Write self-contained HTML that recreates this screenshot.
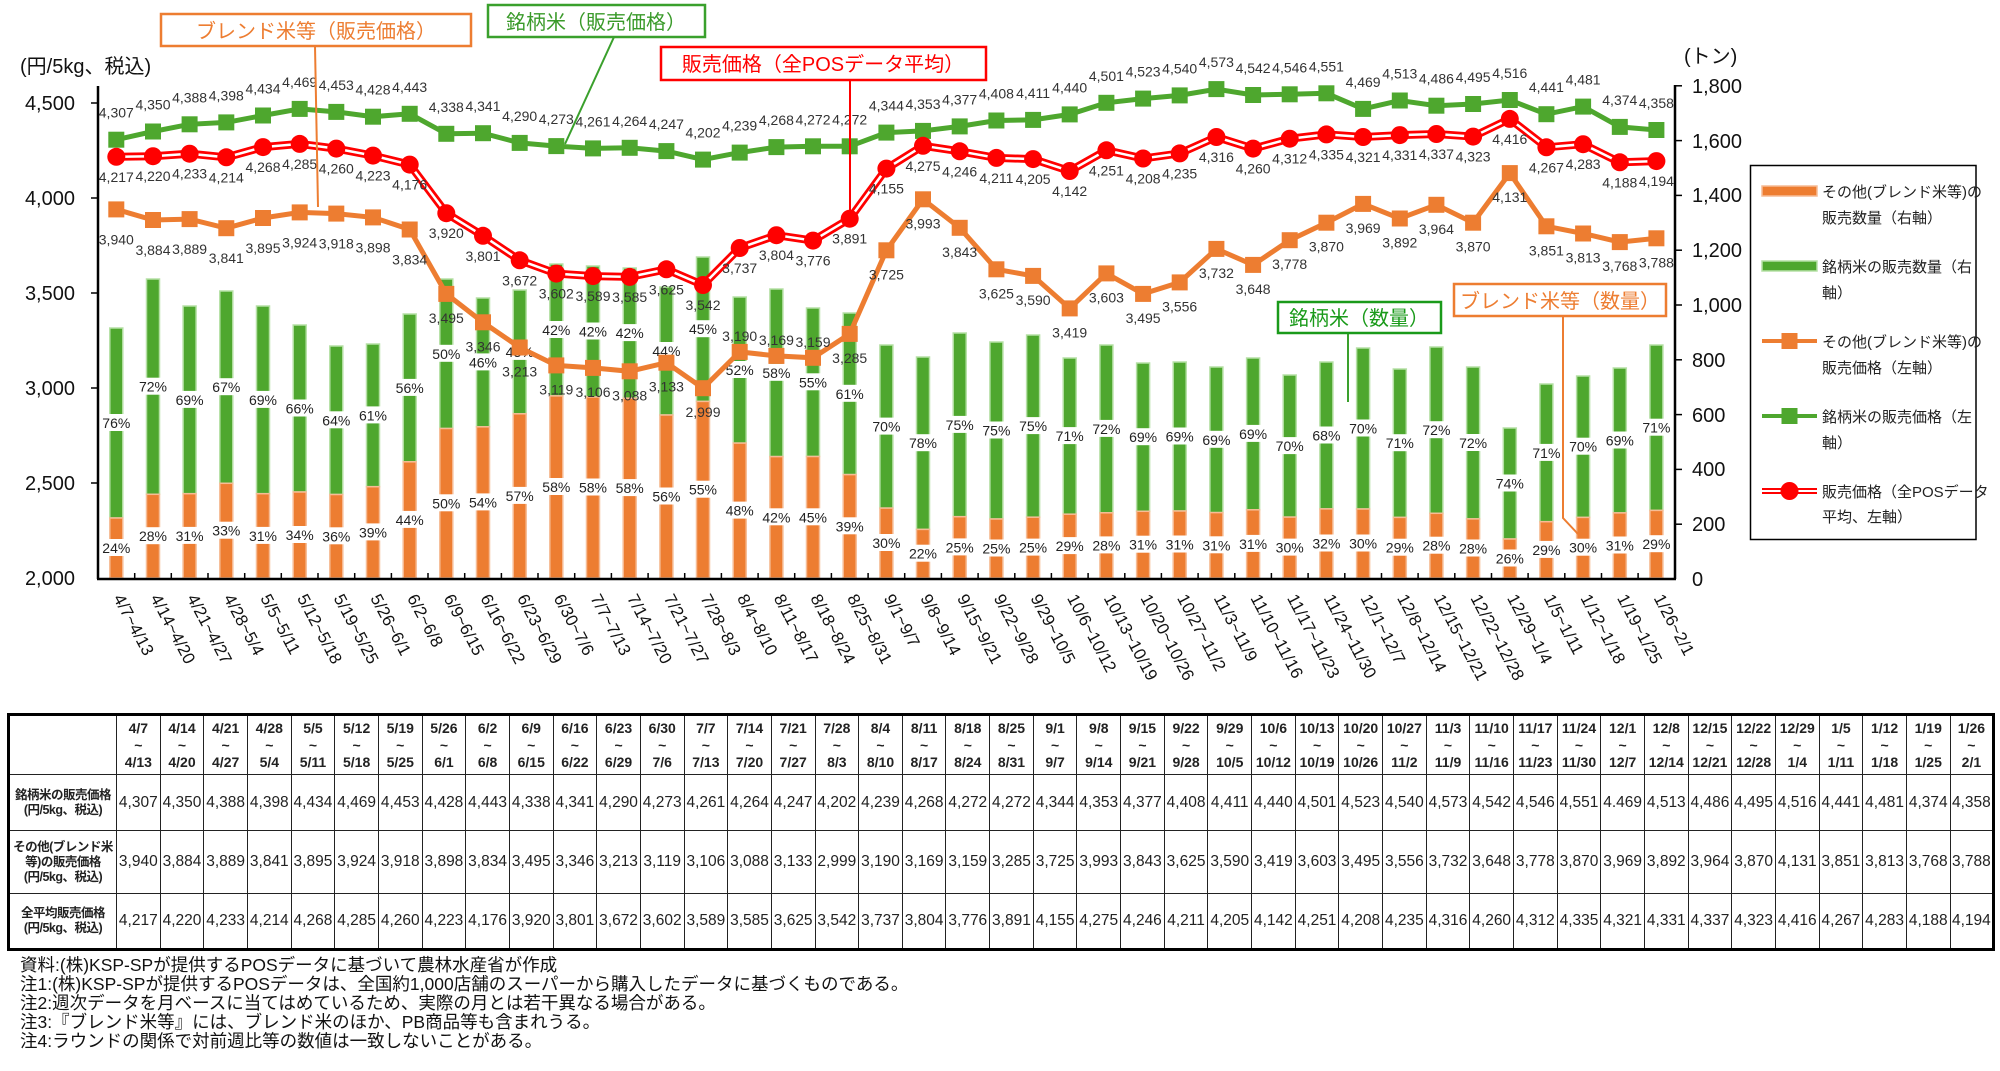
<!DOCTYPE html>
<html><head><meta charset="utf-8">
<style>
html,body{margin:0;padding:0;background:#fff;}
body{width:2000px;height:1071px;position:relative;overflow:hidden;font-family:"Liberation Sans","Noto Sans CJK JP",sans-serif;}
svg{position:absolute;left:0;top:0;}
table{position:absolute;left:7px;top:713px;border-collapse:collapse;table-layout:fixed;width:1986px;border:3px solid #000;}
td{border:1.5px solid #222;padding:0;text-align:center;font-size:15.5px;color:#222;overflow:hidden;white-space:nowrap;}
tr.h td{font-weight:bold;font-size:14px;line-height:17px;height:58px;}
td.l{font-weight:bold;font-size:12.5px;line-height:15px;letter-spacing:-0.5px;}
.notes{position:absolute;left:20px;top:956px;font-size:17.5px;line-height:19px;color:#111;}
</style></head><body>
<svg width="2000" height="1071" viewBox="0 0 2000 1071" font-family="Liberation Sans, Noto Sans CJK JP, sans-serif">
<defs>
<rect id="gs" x="-8" y="-8" width="16" height="16" fill="#4ea72e"/>
<rect id="os" x="-8" y="-8" width="16" height="16" fill="#ed7d31"/>
<circle id="rc" r="9" fill="#ff0000"/>
</defs>
<g stroke-width="1.5">
<g fill="#4ea72e" stroke="#b5e0a5">
<rect x="109.8" y="328" width="13" height="190"/><rect x="146.5" y="279" width="13" height="215.3"/><rect x="183.1" y="306" width="13" height="187.7"/><rect x="219.8" y="291" width="13" height="192.3"/><rect x="256.5" y="306" width="13" height="187.7"/><rect x="293.2" y="325" width="13" height="167"/><rect x="329.8" y="346" width="13" height="148.5"/><rect x="366.5" y="344" width="13" height="142.7"/><rect x="403.2" y="314" width="13" height="147.8"/><rect x="439.8" y="279" width="13" height="149.5"/><rect x="476.5" y="298" width="13" height="128.8"/><rect x="513.2" y="290" width="13" height="123.8"/><rect x="549.8" y="264" width="13" height="131.9"/><rect x="586.5" y="266" width="13" height="131"/><rect x="623.2" y="268" width="13" height="130.2"/><rect x="659.9" y="287" width="13" height="128"/><rect x="696.5" y="257" width="13" height="144.4"/><rect x="733.2" y="297" width="13" height="146.1"/><rect x="769.9" y="289" width="13" height="167.6"/><rect x="806.5" y="308" width="13" height="148.5"/><rect x="843.2" y="313" width="13" height="161.6"/><rect x="879.9" y="345" width="13" height="163.1"/><rect x="916.5" y="357" width="13" height="172.4"/><rect x="953.2" y="333" width="13" height="183.7"/><rect x="989.9" y="342" width="13" height="177"/><rect x="1026.6" y="335" width="13" height="182.2"/><rect x="1063.2" y="358" width="13" height="156.2"/><rect x="1099.9" y="345" width="13" height="167.8"/><rect x="1136.6" y="363" width="13" height="148.3"/><rect x="1173.2" y="362" width="13" height="149"/><rect x="1209.9" y="367" width="13" height="145.6"/><rect x="1246.6" y="358" width="13" height="151.8"/><rect x="1283.2" y="375" width="13" height="142.1"/><rect x="1319.9" y="362" width="13" height="146.9"/><rect x="1356.6" y="348" width="13" height="161"/><rect x="1393.3" y="369" width="13" height="148.4"/><rect x="1429.9" y="347" width="13" height="166.3"/><rect x="1466.6" y="367" width="13" height="151.9"/><rect x="1503.3" y="428" width="13" height="111"/><rect x="1539.9" y="384" width="13" height="137.7"/><rect x="1576.6" y="376" width="13" height="141.4"/><rect x="1613.3" y="368" width="13" height="144.9"/><rect x="1649.9" y="345" width="13" height="165.4"/>
</g>
<g fill="#ed7d31" stroke="#f6bc95">
<rect x="109.8" y="518" width="13" height="60"/><rect x="146.5" y="494.3" width="13" height="83.7"/><rect x="183.1" y="493.7" width="13" height="84.3"/><rect x="219.8" y="483.3" width="13" height="94.7"/><rect x="256.5" y="493.7" width="13" height="84.3"/><rect x="293.2" y="492" width="13" height="86"/><rect x="329.8" y="494.5" width="13" height="83.5"/><rect x="366.5" y="486.7" width="13" height="91.3"/><rect x="403.2" y="461.8" width="13" height="116.2"/><rect x="439.8" y="428.5" width="13" height="149.5"/><rect x="476.5" y="426.8" width="13" height="151.2"/><rect x="513.2" y="413.8" width="13" height="164.2"/><rect x="549.8" y="395.9" width="13" height="182.1"/><rect x="586.5" y="397" width="13" height="181"/><rect x="623.2" y="398.2" width="13" height="179.8"/><rect x="659.9" y="415" width="13" height="163"/><rect x="696.5" y="401.4" width="13" height="176.6"/><rect x="733.2" y="443.1" width="13" height="134.9"/><rect x="769.9" y="456.6" width="13" height="121.4"/><rect x="806.5" y="456.5" width="13" height="121.5"/><rect x="843.2" y="474.6" width="13" height="103.4"/><rect x="879.9" y="508.1" width="13" height="69.9"/><rect x="916.5" y="529.4" width="13" height="48.6"/><rect x="953.2" y="516.7" width="13" height="61.3"/><rect x="989.9" y="519" width="13" height="59"/><rect x="1026.6" y="517.2" width="13" height="60.8"/><rect x="1063.2" y="514.2" width="13" height="63.8"/><rect x="1099.9" y="512.8" width="13" height="65.2"/><rect x="1136.6" y="511.3" width="13" height="66.7"/><rect x="1173.2" y="511" width="13" height="67"/><rect x="1209.9" y="512.6" width="13" height="65.4"/><rect x="1246.6" y="509.8" width="13" height="68.2"/><rect x="1283.2" y="517.1" width="13" height="60.9"/><rect x="1319.9" y="508.9" width="13" height="69.1"/><rect x="1356.6" y="509" width="13" height="69"/><rect x="1393.3" y="517.4" width="13" height="60.6"/><rect x="1429.9" y="513.3" width="13" height="64.7"/><rect x="1466.6" y="518.9" width="13" height="59.1"/><rect x="1503.3" y="539" width="13" height="39"/><rect x="1539.9" y="521.7" width="13" height="56.3"/><rect x="1576.6" y="517.4" width="13" height="60.6"/><rect x="1613.3" y="512.9" width="13" height="65.1"/><rect x="1649.9" y="510.4" width="13" height="67.6"/>
</g></g>
<g fill="#fff">
<rect x="99.3" y="414" width="34" height="17"/><rect x="136" y="377.7" width="34" height="17"/><rect x="172.6" y="390.9" width="34" height="17"/><rect x="209.3" y="378.2" width="34" height="17"/><rect x="246" y="390.9" width="34" height="17"/><rect x="282.7" y="399.5" width="34" height="17"/><rect x="319.3" y="411.3" width="34" height="17"/><rect x="356" y="406.4" width="34" height="17"/><rect x="392.7" y="378.9" width="34" height="17"/><rect x="429.3" y="344.8" width="34" height="17"/><rect x="466" y="353.4" width="34" height="17"/><rect x="502.7" y="342.9" width="34" height="17"/><rect x="539.3" y="321" width="34" height="17"/><rect x="576" y="322.5" width="34" height="17"/><rect x="612.7" y="324.1" width="34" height="17"/><rect x="649.4" y="342" width="34" height="17"/><rect x="686" y="320.2" width="34" height="17"/><rect x="722.7" y="361" width="34" height="17"/><rect x="759.4" y="363.8" width="34" height="17"/><rect x="796" y="373.3" width="34" height="17"/><rect x="832.7" y="384.8" width="34" height="17"/><rect x="869.4" y="417.6" width="34" height="17"/><rect x="906" y="434.2" width="34" height="17"/><rect x="942.7" y="415.9" width="34" height="17"/><rect x="979.4" y="421.5" width="34" height="17"/><rect x="1016.1" y="417.1" width="34" height="17"/><rect x="1052.7" y="427.1" width="34" height="17"/><rect x="1089.4" y="419.9" width="34" height="17"/><rect x="1126.1" y="428.2" width="34" height="17"/><rect x="1162.7" y="427.5" width="34" height="17"/><rect x="1199.4" y="430.8" width="34" height="17"/><rect x="1236.1" y="424.9" width="34" height="17"/><rect x="1272.7" y="437.1" width="34" height="17"/><rect x="1309.4" y="426.5" width="34" height="17"/><rect x="1346.1" y="419.5" width="34" height="17"/><rect x="1382.8" y="434.2" width="34" height="17"/><rect x="1419.4" y="421.2" width="34" height="17"/><rect x="1456.1" y="434" width="34" height="17"/><rect x="1492.8" y="474.5" width="34" height="17"/><rect x="1529.4" y="443.9" width="34" height="17"/><rect x="1566.1" y="437.7" width="34" height="17"/><rect x="1602.8" y="431.5" width="34" height="17"/><rect x="1639.4" y="418.7" width="34" height="17"/>
<rect x="99.3" y="539" width="34" height="17"/><rect x="136" y="527.2" width="34" height="17"/><rect x="172.6" y="526.9" width="34" height="17"/><rect x="209.3" y="521.7" width="34" height="17"/><rect x="246" y="526.9" width="34" height="17"/><rect x="282.7" y="526" width="34" height="17"/><rect x="319.3" y="527.3" width="34" height="17"/><rect x="356" y="523.4" width="34" height="17"/><rect x="392.7" y="510.9" width="34" height="17"/><rect x="429.3" y="494.3" width="34" height="17"/><rect x="466" y="493.4" width="34" height="17"/><rect x="502.7" y="486.9" width="34" height="17"/><rect x="539.3" y="478" width="34" height="17"/><rect x="576" y="478.5" width="34" height="17"/><rect x="612.7" y="479.1" width="34" height="17"/><rect x="649.4" y="487.5" width="34" height="17"/><rect x="686" y="480.7" width="34" height="17"/><rect x="722.7" y="501.6" width="34" height="17"/><rect x="759.4" y="508.3" width="34" height="17"/><rect x="796" y="508.3" width="34" height="17"/><rect x="832.7" y="517.3" width="34" height="17"/><rect x="869.4" y="534" width="34" height="17"/><rect x="906" y="544.7" width="34" height="17"/><rect x="942.7" y="538.4" width="34" height="17"/><rect x="979.4" y="539.5" width="34" height="17"/><rect x="1016.1" y="538.6" width="34" height="17"/><rect x="1052.7" y="537.1" width="34" height="17"/><rect x="1089.4" y="536.4" width="34" height="17"/><rect x="1126.1" y="535.7" width="34" height="17"/><rect x="1162.7" y="535.5" width="34" height="17"/><rect x="1199.4" y="536.3" width="34" height="17"/><rect x="1236.1" y="534.9" width="34" height="17"/><rect x="1272.7" y="538.6" width="34" height="17"/><rect x="1309.4" y="534.5" width="34" height="17"/><rect x="1346.1" y="534.5" width="34" height="17"/><rect x="1382.8" y="538.7" width="34" height="17"/><rect x="1419.4" y="536.7" width="34" height="17"/><rect x="1456.1" y="539.5" width="34" height="17"/><rect x="1492.8" y="549.5" width="34" height="17"/><rect x="1529.4" y="540.9" width="34" height="17"/><rect x="1566.1" y="538.7" width="34" height="17"/><rect x="1602.8" y="536.5" width="34" height="17"/><rect x="1639.4" y="535.2" width="34" height="17"/>
</g>
<g font-size="14" fill="#222" text-anchor="middle">
<text x="116.3" y="428">76%</text><text x="153" y="391.7">72%</text><text x="189.6" y="404.9">69%</text><text x="226.3" y="392.2">67%</text><text x="263" y="404.9">69%</text><text x="299.7" y="413.5">66%</text><text x="336.3" y="425.3">64%</text><text x="373" y="420.4">61%</text><text x="409.7" y="392.9">56%</text><text x="446.3" y="358.8">50%</text><text x="483" y="367.4">46%</text><text x="519.7" y="356.9">43%</text><text x="556.3" y="335">42%</text><text x="593" y="336.5">42%</text><text x="629.7" y="338.1">42%</text><text x="666.4" y="356">44%</text><text x="703" y="334.2">45%</text><text x="739.7" y="375">52%</text><text x="776.4" y="377.8">58%</text><text x="813" y="387.3">55%</text><text x="849.7" y="398.8">61%</text><text x="886.4" y="431.6">70%</text><text x="923" y="448.2">78%</text><text x="959.7" y="429.9">75%</text><text x="996.4" y="435.5">75%</text><text x="1033.1" y="431.1">75%</text><text x="1069.7" y="441.1">71%</text><text x="1106.4" y="433.9">72%</text><text x="1143.1" y="442.2">69%</text><text x="1179.7" y="441.5">69%</text><text x="1216.4" y="444.8">69%</text><text x="1253.1" y="438.9">69%</text><text x="1289.7" y="451.1">70%</text><text x="1326.4" y="440.5">68%</text><text x="1363.1" y="433.5">70%</text><text x="1399.8" y="448.2">71%</text><text x="1436.4" y="435.2">72%</text><text x="1473.1" y="448">72%</text><text x="1509.8" y="488.5">74%</text><text x="1546.4" y="457.9">71%</text><text x="1583.1" y="451.7">70%</text><text x="1619.8" y="445.5">69%</text><text x="1656.4" y="432.7">71%</text>
<text x="116.3" y="553">24%</text><text x="153" y="541.2">28%</text><text x="189.6" y="540.9">31%</text><text x="226.3" y="535.7">33%</text><text x="263" y="540.9">31%</text><text x="299.7" y="540">34%</text><text x="336.3" y="541.3">36%</text><text x="373" y="537.4">39%</text><text x="409.7" y="524.9">44%</text><text x="446.3" y="508.3">50%</text><text x="483" y="507.4">54%</text><text x="519.7" y="500.9">57%</text><text x="556.3" y="492">58%</text><text x="593" y="492.5">58%</text><text x="629.7" y="493.1">58%</text><text x="666.4" y="501.5">56%</text><text x="703" y="494.7">55%</text><text x="739.7" y="515.6">48%</text><text x="776.4" y="522.3">42%</text><text x="813" y="522.3">45%</text><text x="849.7" y="531.3">39%</text><text x="886.4" y="548">30%</text><text x="923" y="558.7">22%</text><text x="959.7" y="552.4">25%</text><text x="996.4" y="553.5">25%</text><text x="1033.1" y="552.6">25%</text><text x="1069.7" y="551.1">29%</text><text x="1106.4" y="550.4">28%</text><text x="1143.1" y="549.7">31%</text><text x="1179.7" y="549.5">31%</text><text x="1216.4" y="550.3">31%</text><text x="1253.1" y="548.9">31%</text><text x="1289.7" y="552.6">30%</text><text x="1326.4" y="548.5">32%</text><text x="1363.1" y="548.5">30%</text><text x="1399.8" y="552.7">29%</text><text x="1436.4" y="550.7">28%</text><text x="1473.1" y="553.5">28%</text><text x="1509.8" y="563.5">26%</text><text x="1546.4" y="554.9">29%</text><text x="1583.1" y="552.7">30%</text><text x="1619.8" y="550.5">31%</text><text x="1656.4" y="549.2">29%</text>
</g>
<g stroke="#000" stroke-width="2.5" fill="none">
<line x1="98" y1="86" x2="98" y2="579"/><line x1="1675" y1="85" x2="1675" y2="579"/><line x1="97" y1="579" x2="1676" y2="579"/>
</g>
<g stroke="#000" stroke-width="1.5">
<line x1="91" y1="103" x2="98" y2="103"/><line x1="91" y1="198" x2="98" y2="198"/><line x1="91" y1="293" x2="98" y2="293"/><line x1="91" y1="388" x2="98" y2="388"/><line x1="91" y1="483" x2="98" y2="483"/>
<line x1="1675" y1="85.8" x2="1682" y2="85.8"/><line x1="1675" y1="140.6" x2="1682" y2="140.6"/><line x1="1675" y1="195.4" x2="1682" y2="195.4"/><line x1="1675" y1="250.2" x2="1682" y2="250.2"/><line x1="1675" y1="305" x2="1682" y2="305"/><line x1="1675" y1="359.8" x2="1682" y2="359.8"/><line x1="1675" y1="414.6" x2="1682" y2="414.6"/><line x1="1675" y1="469.4" x2="1682" y2="469.4"/><line x1="1675" y1="524.2" x2="1682" y2="524.2"/>
<path d="M134.7 579v-6M171.3 579v-6M208 579v-6M244.7 579v-6M281.3 579v-6M318 579v-6M354.7 579v-6M391.4 579v-6M428 579v-6M464.7 579v-6M501.4 579v-6M538 579v-6M574.7 579v-6M611.4 579v-6M648.1 579v-6M684.7 579v-6M721.4 579v-6M758.1 579v-6M794.7 579v-6M831.4 579v-6M868.1 579v-6M904.7 579v-6M941.4 579v-6M978.1 579v-6M1014.8 579v-6M1051.4 579v-6M1088.1 579v-6M1124.8 579v-6M1161.4 579v-6M1198.1 579v-6M1234.8 579v-6M1271.4 579v-6M1308.1 579v-6M1344.8 579v-6M1381.5 579v-6M1418.1 579v-6M1454.8 579v-6M1491.5 579v-6M1528.1 579v-6M1564.8 579v-6M1601.5 579v-6M1638.1 579v-6" fill="none"/>
</g>
<g font-size="20" fill="#111" text-anchor="end">
<text x="75" y="110">4,500</text><text x="75" y="205">4,000</text><text x="75" y="300">3,500</text><text x="75" y="395">3,000</text><text x="75" y="490">2,500</text><text x="75" y="585">2,000</text>
</g>
<g font-size="20" fill="#111">
<text x="1692" y="93">1,800</text><text x="1692" y="148">1,600</text><text x="1692" y="202">1,400</text><text x="1692" y="257">1,200</text><text x="1692" y="312">1,000</text><text x="1692" y="367">800</text><text x="1692" y="422">600</text><text x="1692" y="476">400</text><text x="1692" y="531">200</text><text x="1692" y="586">0</text>
<text x="20" y="73">(円/5kg、税込)</text><text x="1684" y="63">(トン)</text>
</g>
<g font-size="17" fill="#111">
<text transform="translate(113,598) rotate(62)">4/7~4/13</text><text transform="translate(150,598) rotate(62)">4/14~4/20</text><text transform="translate(186.6,598) rotate(62)">4/21~4/27</text><text transform="translate(223.3,598) rotate(62)">4/28~5/4</text><text transform="translate(260,598) rotate(62)">5/5~5/11</text><text transform="translate(296.7,598) rotate(62)">5/12~5/18</text><text transform="translate(333.3,598) rotate(62)">5/19~5/25</text><text transform="translate(370,598) rotate(62)">5/26~6/1</text><text transform="translate(406.7,598) rotate(62)">6/2~6/8</text><text transform="translate(443.3,598) rotate(62)">6/9~6/15</text><text transform="translate(480,598) rotate(62)">6/16~6/22</text><text transform="translate(516.7,598) rotate(62)">6/23~6/29</text><text transform="translate(553.3,598) rotate(62)">6/30~7/6</text><text transform="translate(590,598) rotate(62)">7/7~7/13</text><text transform="translate(626.7,598) rotate(62)">7/14~7/20</text><text transform="translate(663.4,598) rotate(62)">7/21~7/27</text><text transform="translate(700,598) rotate(62)">7/28~8/3</text><text transform="translate(736.7,598) rotate(62)">8/4~8/10</text><text transform="translate(773.4,598) rotate(62)">8/11~8/17</text><text transform="translate(810,598) rotate(62)">8/18~8/24</text><text transform="translate(846.7,598) rotate(62)">8/25~8/31</text><text transform="translate(883.4,598) rotate(62)">9/1~9/7</text><text transform="translate(920,598) rotate(62)">9/8~9/14</text><text transform="translate(956.7,598) rotate(62)">9/15~9/21</text><text transform="translate(993.4,598) rotate(62)">9/22~9/28</text><text transform="translate(1030.1,598) rotate(62)">9/29~10/5</text><text transform="translate(1066.7,598) rotate(62)">10/6~10/12</text><text transform="translate(1103.4,598) rotate(62)">10/13~10/19</text><text transform="translate(1140.1,598) rotate(62)">10/20~10/26</text><text transform="translate(1176.7,598) rotate(62)">10/27~11/2</text><text transform="translate(1213.4,598) rotate(62)">11/3~11/9</text><text transform="translate(1250.1,598) rotate(62)">11/10~11/16</text><text transform="translate(1286.7,598) rotate(62)">11/17~11/23</text><text transform="translate(1323.4,598) rotate(62)">11/24~11/30</text><text transform="translate(1360.1,598) rotate(62)">12/1~12/7</text><text transform="translate(1396.8,598) rotate(62)">12/8~12/14</text><text transform="translate(1433.4,598) rotate(62)">12/15~12/21</text><text transform="translate(1470.1,598) rotate(62)">12/22~12/28</text><text transform="translate(1506.8,598) rotate(62)">12/29~1/4</text><text transform="translate(1543.4,598) rotate(62)">1/5~1/11</text><text transform="translate(1580.1,598) rotate(62)">1/12~1/18</text><text transform="translate(1616.8,598) rotate(62)">1/19~1/25</text><text transform="translate(1653.4,598) rotate(62)">1/26~2/1</text>
</g>
<polyline fill="none" stroke="#4ea72e" stroke-width="5" points="116.3,139.7 153,131.5 189.6,124.3 226.3,122.4 263,115.5 299.7,108.9 336.3,111.9 373,116.7 409.7,113.8 446.3,133.8 483,133.2 519.7,142.9 556.3,146.1 593,148.4 629.7,147.8 666.4,151.1 703,159.6 739.7,152.6 776.4,147.1 813,146.3 849.7,146.3 886.4,132.6 923,130.9 959.7,126.4 996.4,120.5 1033.1,119.9 1069.7,114.4 1106.4,102.8 1143.1,98.6 1179.7,95.4 1216.4,89.1 1253.1,95 1289.7,94.3 1326.4,93.3 1363.1,108.9 1399.8,100.5 1436.4,105.7 1473.1,104 1509.8,100 1546.4,114.2 1583.1,106.6 1619.8,126.9 1656.4,130"/>
<polyline fill="none" stroke="#ed7d31" stroke-width="5" points="116.3,209.4 153,220 189.6,219.1 226.3,228.2 263,218 299.7,212.4 336.3,213.6 373,217.4 409.7,229.5 446.3,293.9 483,322.3 519.7,347.5 556.3,365.4 593,367.9 629.7,371.3 666.4,362.7 703,388.2 739.7,351.9 776.4,355.9 813,357.8 849.7,333.9 886.4,250.3 923,199.3 959.7,227.8 996.4,269.3 1033.1,275.9 1069.7,308.4 1106.4,273.4 1143.1,293.9 1179.7,282.4 1216.4,248.9 1253.1,264.9 1289.7,240.2 1326.4,222.7 1363.1,203.9 1399.8,218.5 1436.4,204.8 1473.1,222.7 1509.8,173.1 1546.4,226.3 1583.1,233.5 1619.8,242.1 1656.4,238.3"/>
<g fill="none">
<polyline stroke="#ff0000" stroke-width="8" points="116.3,156.8 153,156.2 189.6,153.7 226.3,157.3 263,147.1 299.7,143.9 336.3,148.6 373,155.6 409.7,164.6 446.3,213.2 483,235.8 519.7,260.3 556.3,273.6 593,276.1 629.7,276.9 666.4,269.3 703,285 739.7,248 776.4,235.2 813,240.6 849.7,218.7 886.4,168.6 923,145.8 959.7,151.3 996.4,157.9 1033.1,159.1 1069.7,171 1106.4,150.3 1143.1,158.5 1179.7,153.4 1216.4,137 1253.1,148.6 1289.7,138.7 1326.4,134.4 1363.1,137 1399.8,135.1 1436.4,134 1473.1,136.6 1509.8,118.9 1546.4,147.3 1583.1,144.2 1619.8,162.3 1656.4,161.1"/>
<polyline stroke="#fff" stroke-width="2.5" points="116.3,156.8 153,156.2 189.6,153.7 226.3,157.3 263,147.1 299.7,143.9 336.3,148.6 373,155.6 409.7,164.6 446.3,213.2 483,235.8 519.7,260.3 556.3,273.6 593,276.1 629.7,276.9 666.4,269.3 703,285 739.7,248 776.4,235.2 813,240.6 849.7,218.7 886.4,168.6 923,145.8 959.7,151.3 996.4,157.9 1033.1,159.1 1069.7,171 1106.4,150.3 1143.1,158.5 1179.7,153.4 1216.4,137 1253.1,148.6 1289.7,138.7 1326.4,134.4 1363.1,137 1399.8,135.1 1436.4,134 1473.1,136.6 1509.8,118.9 1546.4,147.3 1583.1,144.2 1619.8,162.3 1656.4,161.1"/>
</g>
<g>
<use href="#gs" x="116.3" y="139.7"/><use href="#gs" x="153" y="131.5"/><use href="#gs" x="189.6" y="124.3"/><use href="#gs" x="226.3" y="122.4"/><use href="#gs" x="263" y="115.5"/><use href="#gs" x="299.7" y="108.9"/><use href="#gs" x="336.3" y="111.9"/><use href="#gs" x="373" y="116.7"/><use href="#gs" x="409.7" y="113.8"/><use href="#gs" x="446.3" y="133.8"/><use href="#gs" x="483" y="133.2"/><use href="#gs" x="519.7" y="142.9"/><use href="#gs" x="556.3" y="146.1"/><use href="#gs" x="593" y="148.4"/><use href="#gs" x="629.7" y="147.8"/><use href="#gs" x="666.4" y="151.1"/><use href="#gs" x="703" y="159.6"/><use href="#gs" x="739.7" y="152.6"/><use href="#gs" x="776.4" y="147.1"/><use href="#gs" x="813" y="146.3"/><use href="#gs" x="849.7" y="146.3"/><use href="#gs" x="886.4" y="132.6"/><use href="#gs" x="923" y="130.9"/><use href="#gs" x="959.7" y="126.4"/><use href="#gs" x="996.4" y="120.5"/><use href="#gs" x="1033.1" y="119.9"/><use href="#gs" x="1069.7" y="114.4"/><use href="#gs" x="1106.4" y="102.8"/><use href="#gs" x="1143.1" y="98.6"/><use href="#gs" x="1179.7" y="95.4"/><use href="#gs" x="1216.4" y="89.1"/><use href="#gs" x="1253.1" y="95"/><use href="#gs" x="1289.7" y="94.3"/><use href="#gs" x="1326.4" y="93.3"/><use href="#gs" x="1363.1" y="108.9"/><use href="#gs" x="1399.8" y="100.5"/><use href="#gs" x="1436.4" y="105.7"/><use href="#gs" x="1473.1" y="104"/><use href="#gs" x="1509.8" y="100"/><use href="#gs" x="1546.4" y="114.2"/><use href="#gs" x="1583.1" y="106.6"/><use href="#gs" x="1619.8" y="126.9"/><use href="#gs" x="1656.4" y="130"/>
<use href="#os" x="116.3" y="209.4"/><use href="#os" x="153" y="220"/><use href="#os" x="189.6" y="219.1"/><use href="#os" x="226.3" y="228.2"/><use href="#os" x="263" y="218"/><use href="#os" x="299.7" y="212.4"/><use href="#os" x="336.3" y="213.6"/><use href="#os" x="373" y="217.4"/><use href="#os" x="409.7" y="229.5"/><use href="#os" x="446.3" y="293.9"/><use href="#os" x="483" y="322.3"/><use href="#os" x="519.7" y="347.5"/><use href="#os" x="556.3" y="365.4"/><use href="#os" x="593" y="367.9"/><use href="#os" x="629.7" y="371.3"/><use href="#os" x="666.4" y="362.7"/><use href="#os" x="703" y="388.2"/><use href="#os" x="739.7" y="351.9"/><use href="#os" x="776.4" y="355.9"/><use href="#os" x="813" y="357.8"/><use href="#os" x="849.7" y="333.9"/><use href="#os" x="886.4" y="250.3"/><use href="#os" x="923" y="199.3"/><use href="#os" x="959.7" y="227.8"/><use href="#os" x="996.4" y="269.3"/><use href="#os" x="1033.1" y="275.9"/><use href="#os" x="1069.7" y="308.4"/><use href="#os" x="1106.4" y="273.4"/><use href="#os" x="1143.1" y="293.9"/><use href="#os" x="1179.7" y="282.4"/><use href="#os" x="1216.4" y="248.9"/><use href="#os" x="1253.1" y="264.9"/><use href="#os" x="1289.7" y="240.2"/><use href="#os" x="1326.4" y="222.7"/><use href="#os" x="1363.1" y="203.9"/><use href="#os" x="1399.8" y="218.5"/><use href="#os" x="1436.4" y="204.8"/><use href="#os" x="1473.1" y="222.7"/><use href="#os" x="1509.8" y="173.1"/><use href="#os" x="1546.4" y="226.3"/><use href="#os" x="1583.1" y="233.5"/><use href="#os" x="1619.8" y="242.1"/><use href="#os" x="1656.4" y="238.3"/>
<use href="#rc" x="116.3" y="156.8"/><use href="#rc" x="153" y="156.2"/><use href="#rc" x="189.6" y="153.7"/><use href="#rc" x="226.3" y="157.3"/><use href="#rc" x="263" y="147.1"/><use href="#rc" x="299.7" y="143.9"/><use href="#rc" x="336.3" y="148.6"/><use href="#rc" x="373" y="155.6"/><use href="#rc" x="409.7" y="164.6"/><use href="#rc" x="446.3" y="213.2"/><use href="#rc" x="483" y="235.8"/><use href="#rc" x="519.7" y="260.3"/><use href="#rc" x="556.3" y="273.6"/><use href="#rc" x="593" y="276.1"/><use href="#rc" x="629.7" y="276.9"/><use href="#rc" x="666.4" y="269.3"/><use href="#rc" x="703" y="285"/><use href="#rc" x="739.7" y="248"/><use href="#rc" x="776.4" y="235.2"/><use href="#rc" x="813" y="240.6"/><use href="#rc" x="849.7" y="218.7"/><use href="#rc" x="886.4" y="168.6"/><use href="#rc" x="923" y="145.8"/><use href="#rc" x="959.7" y="151.3"/><use href="#rc" x="996.4" y="157.9"/><use href="#rc" x="1033.1" y="159.1"/><use href="#rc" x="1069.7" y="171"/><use href="#rc" x="1106.4" y="150.3"/><use href="#rc" x="1143.1" y="158.5"/><use href="#rc" x="1179.7" y="153.4"/><use href="#rc" x="1216.4" y="137"/><use href="#rc" x="1253.1" y="148.6"/><use href="#rc" x="1289.7" y="138.7"/><use href="#rc" x="1326.4" y="134.4"/><use href="#rc" x="1363.1" y="137"/><use href="#rc" x="1399.8" y="135.1"/><use href="#rc" x="1436.4" y="134"/><use href="#rc" x="1473.1" y="136.6"/><use href="#rc" x="1509.8" y="118.9"/><use href="#rc" x="1546.4" y="147.3"/><use href="#rc" x="1583.1" y="144.2"/><use href="#rc" x="1619.8" y="162.3"/><use href="#rc" x="1656.4" y="161.1"/>
</g>
<g font-size="14" fill="#333" text-anchor="middle">
<text x="116.3" y="117.7">4,307</text><text x="153" y="109.5">4,350</text><text x="189.6" y="102.3">4,388</text><text x="226.3" y="100.4">4,398</text><text x="263" y="93.5">4,434</text><text x="299.7" y="86.9">4,469</text><text x="336.3" y="89.9">4,453</text><text x="373" y="94.7">4,428</text><text x="409.7" y="91.8">4,443</text><text x="446.3" y="111.8">4,338</text><text x="483" y="111.2">4,341</text><text x="519.7" y="120.9">4,290</text><text x="556.3" y="124.1">4,273</text><text x="593" y="126.4">4,261</text><text x="629.7" y="125.8">4,264</text><text x="666.4" y="129.1">4,247</text><text x="703" y="137.6">4,202</text><text x="739.7" y="130.6">4,239</text><text x="776.4" y="125.1">4,268</text><text x="813" y="124.3">4,272</text><text x="849.7" y="124.3">4,272</text><text x="886.4" y="110.6">4,344</text><text x="923" y="108.9">4,353</text><text x="959.7" y="104.4">4,377</text><text x="996.4" y="98.5">4,408</text><text x="1033.1" y="97.9">4,411</text><text x="1069.7" y="92.4">4,440</text><text x="1106.4" y="80.8">4,501</text><text x="1143.1" y="76.6">4,523</text><text x="1179.7" y="73.4">4,540</text><text x="1216.4" y="67.1">4,573</text><text x="1253.1" y="73">4,542</text><text x="1289.7" y="72.3">4,546</text><text x="1326.4" y="71.3">4,551</text><text x="1363.1" y="86.9">4,469</text><text x="1399.8" y="78.5">4,513</text><text x="1436.4" y="83.7">4,486</text><text x="1473.1" y="82">4,495</text><text x="1509.8" y="78">4,516</text><text x="1546.4" y="92.2">4,441</text><text x="1583.1" y="84.6">4,481</text><text x="1619.8" y="104.9">4,374</text><text x="1656.4" y="108">4,358</text>
<text x="116.3" y="244.4">3,940</text><text x="153" y="255">3,884</text><text x="189.6" y="254.1">3,889</text><text x="226.3" y="263.2">3,841</text><text x="263" y="253">3,895</text><text x="299.7" y="247.4">3,924</text><text x="336.3" y="248.6">3,918</text><text x="373" y="252.4">3,898</text><text x="409.7" y="264.5">3,834</text><text x="446.3" y="322.9">3,495</text><text x="483" y="351.3">3,346</text><text x="519.7" y="376.5">3,213</text><text x="556.3" y="394.4">3,119</text><text x="593" y="396.9">3,106</text><text x="629.7" y="400.3">3,088</text><text x="666.4" y="391.7">3,133</text><text x="703" y="417.2">2,999</text><text x="739.7" y="340.9">3,190</text><text x="776.4" y="344.9">3,169</text><text x="813" y="346.8">3,159</text><text x="849.7" y="362.9">3,285</text><text x="886.4" y="279.3">3,725</text><text x="923" y="228.3">3,993</text><text x="959.7" y="256.8">3,843</text><text x="996.4" y="298.3">3,625</text><text x="1033.1" y="304.9">3,590</text><text x="1069.7" y="337.4">3,419</text><text x="1106.4" y="302.4">3,603</text><text x="1143.1" y="322.9">3,495</text><text x="1179.7" y="311.4">3,556</text><text x="1216.4" y="277.9">3,732</text><text x="1253.1" y="293.9">3,648</text><text x="1289.7" y="269.2">3,778</text><text x="1326.4" y="251.7">3,870</text><text x="1363.1" y="232.9">3,969</text><text x="1399.8" y="247.5">3,892</text><text x="1436.4" y="233.8">3,964</text><text x="1473.1" y="251.7">3,870</text><text x="1509.8" y="202.1">4,131</text><text x="1546.4" y="255.3">3,851</text><text x="1583.1" y="262.5">3,813</text><text x="1619.8" y="271.1">3,768</text><text x="1656.4" y="267.3">3,788</text>
<text x="116.3" y="181.8">4,217</text><text x="153" y="181.2">4,220</text><text x="189.6" y="178.7">4,233</text><text x="226.3" y="182.3">4,214</text><text x="263" y="172.1">4,268</text><text x="299.7" y="168.9">4,285</text><text x="336.3" y="173.6">4,260</text><text x="373" y="180.6">4,223</text><text x="409.7" y="189.6">4,176</text><text x="446.3" y="238.2">3,920</text><text x="483" y="260.8">3,801</text><text x="519.7" y="285.3">3,672</text><text x="556.3" y="298.6">3,602</text><text x="593" y="301.1">3,589</text><text x="629.7" y="301.9">3,585</text><text x="666.4" y="294.3">3,625</text><text x="703" y="310">3,542</text><text x="739.7" y="273">3,737</text><text x="776.4" y="260.2">3,804</text><text x="813" y="265.6">3,776</text><text x="849.7" y="243.7">3,891</text><text x="886.4" y="193.6">4,155</text><text x="923" y="170.8">4,275</text><text x="959.7" y="176.3">4,246</text><text x="996.4" y="182.9">4,211</text><text x="1033.1" y="184.1">4,205</text><text x="1069.7" y="196">4,142</text><text x="1106.4" y="175.3">4,251</text><text x="1143.1" y="183.5">4,208</text><text x="1179.7" y="178.4">4,235</text><text x="1216.4" y="162">4,316</text><text x="1253.1" y="173.6">4,260</text><text x="1289.7" y="163.7">4,312</text><text x="1326.4" y="159.4">4,335</text><text x="1363.1" y="162">4,321</text><text x="1399.8" y="160.1">4,331</text><text x="1436.4" y="159">4,337</text><text x="1473.1" y="161.6">4,323</text><text x="1509.8" y="143.9">4,416</text><text x="1546.4" y="172.3">4,267</text><text x="1583.1" y="169.2">4,283</text><text x="1619.8" y="187.3">4,188</text><text x="1656.4" y="186.1">4,194</text>
</g>
<g fill="none" stroke-width="2">
<line x1="315" y1="46" x2="318" y2="207" stroke="#ed7d31"/>
<line x1="614" y1="37" x2="565" y2="144" stroke="#3aa02c"/>
<line x1="850" y1="80" x2="850" y2="212" stroke="#ff0000"/>
<line x1="1348" y1="333" x2="1348" y2="402" stroke="#3aa02c"/>
<polyline points="1563,316 1563,518 1578,534" stroke="#ed7d31"/>
</g>
<g stroke-width="2.5" fill="#fff">
<rect x="161" y="14" width="310" height="32" stroke="#ed7d31"/>
<rect x="488" y="5" width="217" height="32" stroke="#3aa02c"/>
<rect x="661" y="47" width="325" height="33" stroke="#ff0000"/>
<rect x="1278" y="302" width="163" height="31" stroke="#1a9a1a"/>
<rect x="1454" y="284" width="212" height="32" stroke="#ed7d31"/>
</g>
<g font-size="20" text-anchor="middle">
<text x="316" y="38" fill="#ed7d31">ブレンド米等（販売価格）</text>
<text x="596" y="29" fill="#3a9a2a">銘柄米（販売価格）</text>
<text x="823" y="71" fill="#ff0000">販売価格（全POSデータ平均）</text>
<text x="1359" y="325" fill="#1a9a1a">銘柄米（数量）</text>
<text x="1560" y="308" fill="#ed7d31">ブレンド米等（数量）</text>
</g>
<rect x="1750.5" y="165.5" width="225.5" height="374" fill="#fff" stroke="#000" stroke-width="1.5"/>
<rect x="1762" y="186" width="55" height="10" fill="#ed7d31" stroke="#f6bc95" stroke-width="1.5"/>
<rect x="1762" y="261" width="55" height="10" fill="#4ea72e" stroke="#b5e0a5" stroke-width="1.5"/>
<line x1="1762" y1="341" x2="1817" y2="341" stroke="#ed7d31" stroke-width="4"/><use href="#os" x="1789.5" y="341"/>
<line x1="1762" y1="416" x2="1817" y2="416" stroke="#4ea72e" stroke-width="4"/><use href="#gs" x="1789.5" y="416"/>
<line x1="1762" y1="491" x2="1817" y2="491" stroke="#ff0000" stroke-width="6"/><line x1="1762" y1="491" x2="1817" y2="491" stroke="#fff" stroke-width="2"/><use href="#rc" x="1789.5" y="491"/>
<g font-size="15" fill="#222">
<text x="1822" y="197">その他(ブレンド米等)の</text><text x="1822" y="223">販売数量（右軸）</text>
<text x="1822" y="272">銘柄米の販売数量（右</text><text x="1822" y="298">軸）</text>
<text x="1822" y="347">その他(ブレンド米等)の</text><text x="1822" y="373">販売価格（左軸）</text>
<text x="1822" y="422">銘柄米の販売価格（左</text><text x="1822" y="448">軸）</text>
<text x="1822" y="497">販売価格（全POSデータ</text><text x="1822" y="522">平均、左軸）</text>
</g>
</svg>

<table>
<colgroup><col style="width:108px">
<col span="43" style="width:43.67px">
</colgroup>
<tr class="h"><td></td><td>4/7<br>~<br>4/13</td><td>4/14<br>~<br>4/20</td><td>4/21<br>~<br>4/27</td><td>4/28<br>~<br>5/4</td><td>5/5<br>~<br>5/11</td><td>5/12<br>~<br>5/18</td><td>5/19<br>~<br>5/25</td><td>5/26<br>~<br>6/1</td><td>6/2<br>~<br>6/8</td><td>6/9<br>~<br>6/15</td><td>6/16<br>~<br>6/22</td><td>6/23<br>~<br>6/29</td><td>6/30<br>~<br>7/6</td><td>7/7<br>~<br>7/13</td><td>7/14<br>~<br>7/20</td><td>7/21<br>~<br>7/27</td><td>7/28<br>~<br>8/3</td><td>8/4<br>~<br>8/10</td><td>8/11<br>~<br>8/17</td><td>8/18<br>~<br>8/24</td><td>8/25<br>~<br>8/31</td><td>9/1<br>~<br>9/7</td><td>9/8<br>~<br>9/14</td><td>9/15<br>~<br>9/21</td><td>9/22<br>~<br>9/28</td><td>9/29<br>~<br>10/5</td><td>10/6<br>~<br>10/12</td><td>10/13<br>~<br>10/19</td><td>10/20<br>~<br>10/26</td><td>10/27<br>~<br>11/2</td><td>11/3<br>~<br>11/9</td><td>11/10<br>~<br>11/16</td><td>11/17<br>~<br>11/23</td><td>11/24<br>~<br>11/30</td><td>12/1<br>~<br>12/7</td><td>12/8<br>~<br>12/14</td><td>12/15<br>~<br>12/21</td><td>12/22<br>~<br>12/28</td><td>12/29<br>~<br>1/4</td><td>1/5<br>~<br>1/11</td><td>1/12<br>~<br>1/18</td><td>1/19<br>~<br>1/25</td><td>1/26<br>~<br>2/1</td></tr>
<tr style="height:56px"><td class="l">銘柄米の販売価格<br>(円/5kg、税込)</td><td>4,307</td><td>4,350</td><td>4,388</td><td>4,398</td><td>4,434</td><td>4,469</td><td>4,453</td><td>4,428</td><td>4,443</td><td>4,338</td><td>4,341</td><td>4,290</td><td>4,273</td><td>4,261</td><td>4,264</td><td>4,247</td><td>4,202</td><td>4,239</td><td>4,268</td><td>4,272</td><td>4,272</td><td>4,344</td><td>4,353</td><td>4,377</td><td>4,408</td><td>4,411</td><td>4,440</td><td>4,501</td><td>4,523</td><td>4,540</td><td>4,573</td><td>4,542</td><td>4,546</td><td>4,551</td><td>4.469</td><td>4,513</td><td>4,486</td><td>4,495</td><td>4,516</td><td>4,441</td><td>4,481</td><td>4,374</td><td>4,358</td></tr>
<tr style="height:63px"><td class="l">その他(ブレンド米<br>等)の販売価格<br>(円/5kg、税込)</td><td>3,940</td><td>3,884</td><td>3,889</td><td>3,841</td><td>3,895</td><td>3,924</td><td>3,918</td><td>3,898</td><td>3,834</td><td>3,495</td><td>3,346</td><td>3,213</td><td>3,119</td><td>3,106</td><td>3,088</td><td>3,133</td><td>2,999</td><td>3,190</td><td>3,169</td><td>3,159</td><td>3,285</td><td>3,725</td><td>3,993</td><td>3,843</td><td>3,625</td><td>3,590</td><td>3,419</td><td>3,603</td><td>3,495</td><td>3,556</td><td>3,732</td><td>3,648</td><td>3,778</td><td>3,870</td><td>3,969</td><td>3,892</td><td>3,964</td><td>3,870</td><td>4,131</td><td>3,851</td><td>3,813</td><td>3,768</td><td>3,788</td></tr>
<tr style="height:56px"><td class="l">全平均販売価格<br>(円/5kg、税込)</td><td>4,217</td><td>4,220</td><td>4,233</td><td>4,214</td><td>4,268</td><td>4,285</td><td>4,260</td><td>4,223</td><td>4,176</td><td>3,920</td><td>3,801</td><td>3,672</td><td>3,602</td><td>3,589</td><td>3,585</td><td>3,625</td><td>3,542</td><td>3,737</td><td>3,804</td><td>3,776</td><td>3,891</td><td>4,155</td><td>4,275</td><td>4,246</td><td>4,211</td><td>4,205</td><td>4,142</td><td>4,251</td><td>4,208</td><td>4,235</td><td>4,316</td><td>4,260</td><td>4,312</td><td>4,335</td><td>4,321</td><td>4,331</td><td>4,337</td><td>4,323</td><td>4,416</td><td>4,267</td><td>4,283</td><td>4,188</td><td>4,194</td></tr>
</table>

<div class="notes">
資料:(株)KSP-SPが提供するPOSデータに基づいて農林水産省が作成<br>
注1:(株)KSP-SPが提供するPOSデータは、全国約1,000店舗のスーパーから購入したデータに基づくものである。<br>
注2:週次データを月ベースに当てはめているため、実際の月とは若干異なる場合がある。<br>
注3:『ブレンド米等』には、ブレンド米のほか、PB商品等も含まれうる。<br>
注4:ラウンドの関係で対前週比等の数値は一致しないことがある。
</div>
</body></html>
